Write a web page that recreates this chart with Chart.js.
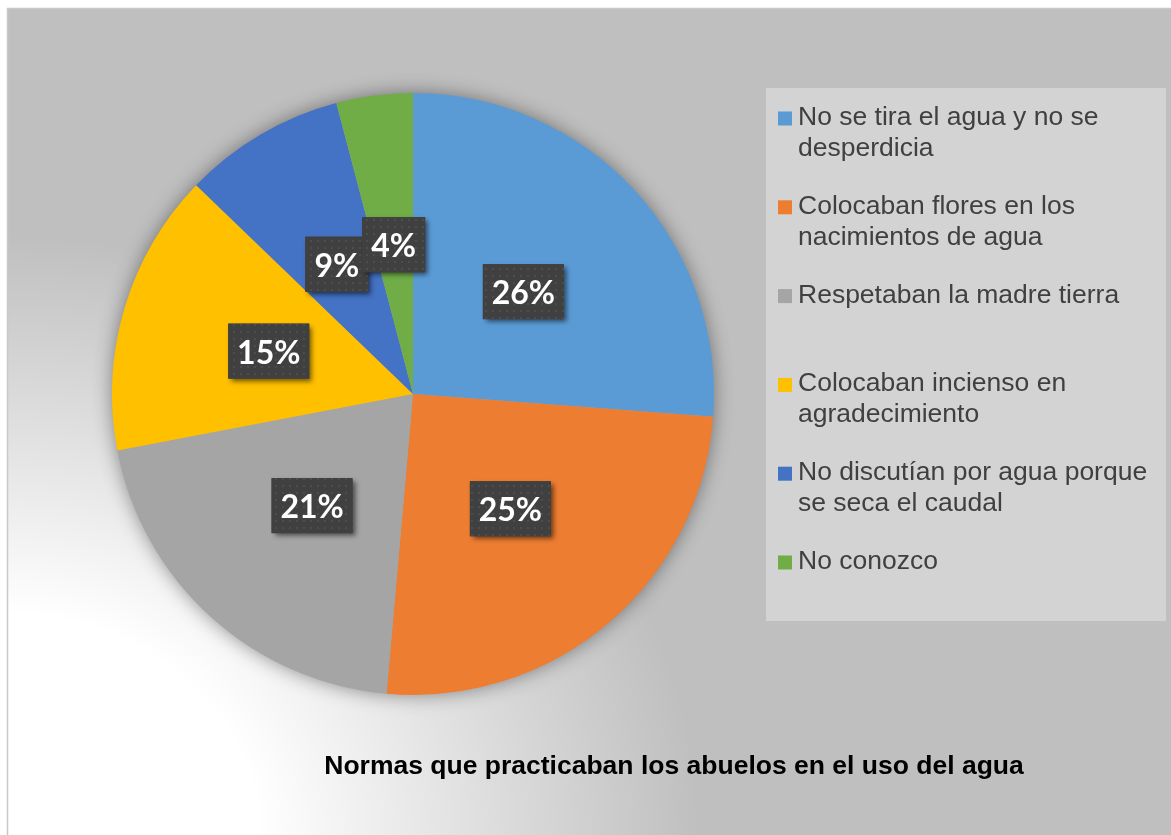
<!DOCTYPE html>
<html>
<head>
<meta charset="utf-8">
<script src="https://cdn.jsdelivr.net/npm/chart.js"></script>
<style>
  html, body { margin: 0; padding: 0; background: #fff; }
  #wrap { position: absolute; left: 0; top: 0; width: 1171px; height: 835px; }
</style>
</head>
<body>
<div id="wrap"><canvas id="c" width="1171" height="835"></canvas></div>
<script>
// ---- data ----
const categories = [
  "No se tira el agua y no se desperdicia",
  "Colocaban flores en los nacimientos de agua",
  "Respetaban la madre tierra",
  "Colocaban incienso en agradecimiento",
  "No discutían por agua porque se seca el caudal",
  "No conozco"
];
const values = [26.2, 25.2, 20.6, 15.2, 8.7, 4.1];
const colors = ["#5B9BD5", "#ED7D31", "#A5A5A5", "#FFC000", "#4472C4", "#70AD47"];
const chartTitle = "Normas que practicaban los abuelos en el uso del agua";

const total = values.reduce((a, b) => a + b, 0);

function wrapText(ctx, text, maxW) {
  const words = text.split(' ');
  const lines = [];
  let cur = '';
  for (const w of words) {
    const test = cur ? cur + ' ' + w : w;
    if (ctx.measureText(test).width > maxW && cur) { lines.push(cur); cur = w; }
    else cur = test;
  }
  if (cur) lines.push(cur);
  return lines;
}

const bgPlugin = {
  id: 'bg',
  beforeDraw(chart) {
    const ctx = chart.ctx, W = chart.width, H = chart.height;
    const fx = 7, fy = 8;
    ctx.save();
    ctx.fillStyle = '#ffffff';
    ctx.fillRect(0, 0, W, H);
    ctx.fillStyle = '#bfbfbf';
    ctx.fillRect(fx, fy, W - fx, H - fy);
    // soft white glow at bottom-left
    ctx.save();
    ctx.beginPath(); ctx.rect(fx, fy, W - fx, H - fy); ctx.clip();
    const rx = 700, ry = 600;
    ctx.translate(0, H);
    ctx.scale(1, ry / rx);
    const g = ctx.createRadialGradient(0, 0, 0, 0, 0, rx);
    g.addColorStop(0, 'rgba(255,255,255,1)');
    g.addColorStop(0.37, 'rgba(255,255,255,1)');
    g.addColorStop(1, 'rgba(255,255,255,0)');
    ctx.fillStyle = g;
    ctx.fillRect(0, -H * rx / ry - 5, W, H * rx / ry + 10);
    ctx.restore();
    // frame border
    ctx.strokeStyle = '#c8c8c8';
    ctx.lineWidth = 1.5;
    ctx.beginPath();
    ctx.moveTo(fx + 0.5, H); ctx.lineTo(fx + 0.5, fy + 0.5); ctx.lineTo(W, fy + 0.5);
    ctx.stroke();

    // legend box
    ctx.fillStyle = '#d3d3d3';
    ctx.fillRect(766, 88, 400, 533);
    ctx.font = '26.5px "Liberation Sans", Arial, sans-serif';
    ctx.textAlign = 'left';
    ctx.textBaseline = 'alphabetic';
    const firstBase = 125, step = 88.8, lineH = 31;
    categories.forEach((cat, i) => {
      const base = firstBase + i * step;
      ctx.fillStyle = colors[i];
      ctx.fillRect(778, base - 13.5, 14, 14);
      ctx.fillStyle = '#404040';
      const lines = wrapText(ctx, cat, 362);
      lines.forEach((ln, j) => ctx.fillText(ln, 798, base + j * lineH));
    });

    // title
    ctx.fillStyle = '#000000';
    ctx.font = 'bold 26.5px "Liberation Sans", Arial, sans-serif';
    ctx.textAlign = 'center';
    ctx.fillText(chartTitle, 674, 774);
    ctx.restore();
  },
  beforeDatasetsDraw(chart) {
    const meta = chart.getDatasetMeta(0);
    const a = meta.data[0];
    if (!a) return;
    const ctx = chart.ctx;
    ctx.save();
    ctx.shadowColor = 'rgba(0,0,0,0.45)';
    ctx.shadowBlur = 20;
    ctx.beginPath();
    ctx.arc(a.x, a.y, a.outerRadius - 1, 0, Math.PI * 2);
    ctx.fillStyle = '#a5a5a5';
    ctx.fill();
    ctx.restore();
  }
};

function makeDotPattern(ctx) {
  const p = document.createElement('canvas');
  p.width = 7; p.height = 7;
  const pc = p.getContext('2d');
  pc.fillStyle = '#404040';
  pc.fillRect(0, 0, 7, 7);
  pc.fillStyle = 'rgba(255,255,255,0.07)';
  pc.fillRect(2, 2, 2, 2);
  return ctx.createPattern(p, 'repeat');
}

const labelPlugin = {
  id: 'pctLabels',
  afterDatasetsDraw(chart) {
    const ctx = chart.ctx;
    const meta = chart.getDatasetMeta(0);
    const pattern = makeDotPattern(ctx);
    meta.data.forEach((el, i) => {
      const { x, y } = el.getCenterPoint();
      const txt = Math.round(values[i] / total * 100) + '%';
      ctx.save();
      ctx.font = 'bold 32px Lato, "Open Sans", sans-serif';
      const tw = ctx.measureText(txt).width;
      const w = Math.round(tw + 18), h = 55;
      const bx = x - w / 2, by = y - h / 2;
      ctx.shadowColor = 'rgba(0,0,0,0.55)';
      ctx.shadowBlur = 5;
      ctx.shadowOffsetX = 3;
      ctx.shadowOffsetY = 3;
      ctx.fillStyle = '#404040';
      ctx.fillRect(bx, by, w, h);
      ctx.shadowColor = 'transparent';
      ctx.fillStyle = pattern;
      ctx.fillRect(bx, by, w, h);
      ctx.fillStyle = '#ffffff';
      ctx.textAlign = 'center';
      ctx.textBaseline = 'alphabetic';
      ctx.fillText(txt, x, y + 12.5);
      ctx.restore();
    });
  }
};

new Chart(document.getElementById('c'), {
  type: 'pie',
  data: {
    labels: categories,
    datasets: [{
      data: values,
      backgroundColor: colors,
      borderWidth: 0
    }]
  },
  options: {
    responsive: false,
    animation: false,
    events: [],
    layout: { padding: { left: 112, right: 457, top: 93, bottom: 140 } },
    plugins: {
      legend: { display: false },
      tooltip: { enabled: false },
      title: { display: false }
    }
  },
  plugins: [bgPlugin, labelPlugin]
});
</script>
</body>
</html>
